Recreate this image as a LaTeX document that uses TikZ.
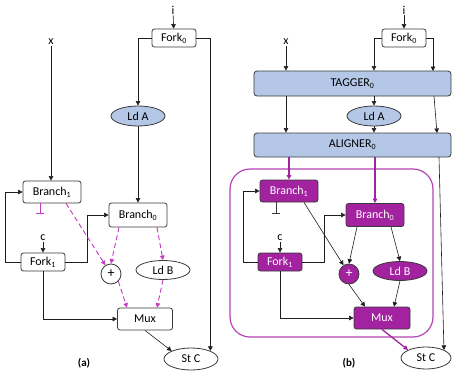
\documentclass[tikz,border=0pt]{standalone}
\usepackage{fontspec}
\setmainfont{Carlito}
\usetikzlibrary{arrows.meta,shapes.geometric,calc}

\definecolor{boxedge}{HTML}{3A3A3A}
\definecolor{wirecol}{HTML}{1E1E1E}
\definecolor{tagblue}{HTML}{B4C7E7}
\definecolor{mag}{HTML}{A3229F}
\definecolor{dashmag}{HTML}{C23BC2}
\definecolor{regionmag}{HTML}{B444B4}

\begin{document}
\begin{tikzpicture}[x=1pt,y=-1pt,
  font=\fontsize{12}{14}\selectfont,
  tip/.tip={Triangle[length=4.5pt,width=4.5pt]},
  wire/.style={draw=wirecol, line width=0.6pt, -tip},
  dwire/.style={draw=dashmag, line width=0.9pt, dash pattern=on 5pt off 3pt, -tip},
  mwire/.style={draw=mag, line width=1.3pt, -tip},
  stopbar/.style={line width=0.6pt, -{Bar[width=8pt,line width=0.8pt]}},
  blk/.style={rectangle, rounded corners=2.5pt, draw=boxedge, line width=0.8pt, fill=white, inner sep=0pt},
  mblk/.style={blk, fill=mag, text=white},
  ell/.style={ellipse, draw=boxedge, line width=0.8pt, fill=white, inner sep=0pt, minimum width=54pt, minimum height=20pt},
  mell/.style={ell, fill=mag, text=white},
  wide/.style={rectangle, rounded corners=3pt, draw=boxedge, line width=0.8pt, fill=tagblue, inner sep=0pt, minimum width=197pt},
  plusnode/.style={circle, draw=boxedge, line width=0.8pt, minimum size=20pt, inner sep=0pt, font=\fontsize{14}{14}\selectfont},
  lbl/.style={inner sep=1pt},
  figcap/.style={font=\fontsize{11}{13}\selectfont\bfseries},
  region/.style={rectangle, rounded corners=20pt, draw=regionmag, line width=1.2pt, inner sep=0pt}
]
\useasboundingbox (0,0) rectangle (453,375);

% ---------------- (a) plain dataflow circuit ----------------
\node[lbl] (ia) at (173,10) {i};
\node[lbl] (xa) at (51,42) {x};
\node[blk, minimum width=44pt, minimum height=18pt] (f0a) at (174,38) {Fork\textsubscript{0}};
\node[ell, fill=tagblue] (lda) at (138,116) {Ld A};
\node[blk, minimum width=58pt, minimum height=22pt] (b1a) at (52,192) {Branch\textsubscript{1}};
\node[blk, minimum width=58pt, minimum height=24pt] (b0a) at (138,215) {Branch\textsubscript{0}};
\node[lbl] (ca) at (43,238) {c};
\node[blk, minimum width=44pt, minimum height=18pt] (f1a) at (43,262) {Fork\textsubscript{1}};
\node[plusnode, fill=white] (pa) at (111,274) {+};
\node[ell, minimum height=19pt] (ldba) at (163,270) {Ld B};
\node[blk, minimum width=55pt, minimum height=22pt] (muxa) at (145,319) {Mux};
\node[ell, minimum height=22pt] (stca) at (191,359) {St C};
\node[figcap] (capa) at (84,363) {(a)};
\coordinate (ta) at (40,214);

\draw[wire] (ia) -- (f0a);
\draw[wire] (f0a.west) -| (lda.north);
\draw[wire] (f0a.east) -| (stca.north east);
\draw[wire] (xa) -- (xa |- b1a.north);
\draw[wire] (lda.south) -- (b0a.north);
\draw[wire] (ca) -- (f1a.north);
\draw[wire] (f1a.west) -- ++(-15,0) |- (b1a.west);
\draw[wire] (f1a.east) -- ++(22,0) |- (b0a.west);
\draw[wire] (f1a.south) |- (muxa.west);
\draw[wire] (muxa.south) -- (stca.north west);
\draw[stopbar, draw=dashmag] (ta |- b1a.south) -- (ta);

\draw[dwire] ($(b1a.south)+(14,0)$) -- (pa);
\draw[dwire] ($(b0a.south)+(-19,0)$) -- (pa.north);
\draw[dwire] ($(b0a.south)+(19,0)$) -- (ldba.north);
\draw[dwire] (pa.south east) -- ($(muxa.north)+(-18,0)$);
\draw[dwire] (ldba.south) -- ($(muxa.north)+(12,0)$);

% ---------------- (b) tagged circuit ----------------
\node[lbl] (ib) at (404,10) {i};
\node[lbl] (xb) at (286,42) {x};
\node[blk, minimum width=44pt, minimum height=18pt] (f0b) at (404,38) {Fork\textsubscript{0}};
\node[wide, minimum height=25pt] (tag) at (352.5,83.5) {TAGGER\textsubscript{0}};
\node[ell, fill=tagblue] (ldab) at (374,116) {Ld A};
\node[wide, minimum height=24pt] (ali) at (352.5,145) {ALIGNER\textsubscript{0}};
\node[region, minimum width=203pt, minimum height=168pt] (grp) at (331.5,253) {};
\node[mblk, minimum width=58pt, minimum height=22pt] (b1b) at (289,191) {Branch\textsubscript{1}};
\node[mblk, minimum width=58pt, minimum height=23pt] (b0b) at (375,215) {Branch\textsubscript{0}};
\node[lbl] (cb) at (280,238) {c};
\node[mblk, minimum width=44pt, minimum height=18pt] (f1b) at (280,262) {Fork\textsubscript{1}};
\node[plusnode, fill=mag, text=white] (pb) at (349,274) {+};
\node[mell, minimum height=19pt] (ldbb) at (400,271) {Ld B};
\node[mblk, minimum width=56pt, minimum height=22pt] (muxb) at (382,318) {Mux};
\node[ell, minimum width=50pt, minimum height=22pt] (stcb) at (426,358) {St C};
\node[figcap] (capb) at (349,363) {(b)};
\coordinate (tb) at (276,214);
\coordinate (tr1) at (434,96);
\coordinate (tr2) at (437,133);
\coordinate (ar1) at (439,157);

\draw[wire] (ib) -- (f0b);
\draw[wire] (xb) -- (xb |- tag.north);
\draw[wire] (f0b.west) -| (ldab |- tag.north);
\draw[wire] (f0b.east) -| (433,71);
\draw[wire] (ldab |- tag.south) -- (ldab.north);
\draw[wire] (ldab.south) -- (ldab |- ali.north);
\draw[wire] (xb |- tag.south) -- (xb |- ali.north);
\draw[wire] (tr1) -- (tr2);
\draw[wire] (ar1) -- (stcb.north east);

\draw[mwire] (b1b |- ali.south) -- (b1b.north);
\draw[mwire] (b0b |- ali.south) -- (b0b.north);

\draw[wire] (cb) -- (f1b.north);
\draw[wire] (f1b.west) -- ++(-14,0) |- (b1b.west);
\draw[wire] (f1b.east) -- ++(22,0) |- (b0b.west);
\draw[wire] (f1b.south) |- (muxb.west);
\draw[stopbar, draw=boxedge] (tb |- b1b.south) -- (tb);

\draw[wire] ($(b1b.south)+(15,0)$) -- (pb);
\draw[wire] ($(b0b.south)+(-18,0)$) -- (pb.north);
\draw[wire] ($(b0b.south)+(16,0)$) -- (ldbb.north);
\draw[wire] (pb.south) -- ($(muxb.north)+(-17,0)$);
\draw[wire] (ldbb.south) -- ($(muxb.north)+(12,0)$);
\draw[mwire] (muxb.south) -- (stcb.north west);
\end{tikzpicture}
\end{document}
